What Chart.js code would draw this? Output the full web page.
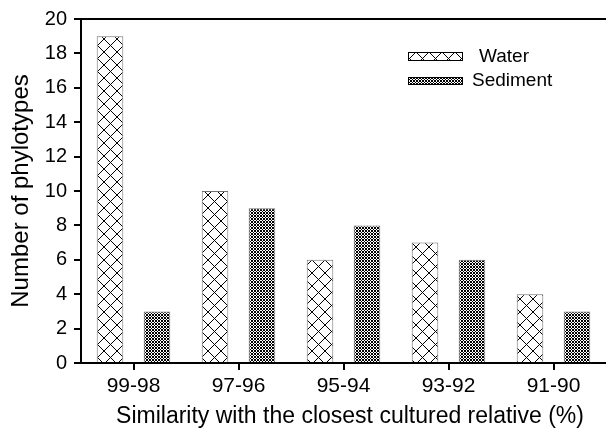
<!DOCTYPE html>
<html>
<head>
<meta charset="utf-8">
<script src="https://cdn.jsdelivr.net/npm/chart.js@4/dist/chart.umd.min.js"></script>
<style>
html,body{margin:0;padding:0;background:#fff;}
#wrap{width:606px;height:433px;position:relative;}
</style>
</head>
<body>
<div id="wrap"><canvas id="c" width="606" height="433"></canvas></div>
<script>
const categories = ['99-98', '97-96', '95-94', '93-92', '91-90'];
const waterValues = [19, 10, 6, 7, 4];
const sedimentValues = [3, 9, 8, 6, 3];
const seriesNames = ['Water', 'Sediment'];
const yTicks = [0, 2, 4, 6, 8, 10, 12, 14, 16, 18, 20];
const xTitle = 'Similarity with the closest cultured relative (%)';
const yTitle = 'Number of phylotypes';

const FONT = '"Liberation Sans", Arial, Helvetica, sans-serif';

function makeWaterPattern() {
  const s = 13;
  const c = document.createElement('canvas');
  c.width = s; c.height = s;
  const g = c.getContext('2d');
  g.fillStyle = '#fff'; g.fillRect(0, 0, s, s);
  g.strokeStyle = '#000'; g.lineWidth = 1;
  g.beginPath();
  g.moveTo(0, 0); g.lineTo(s, s);
  g.moveTo(s, 0); g.lineTo(0, s);
  g.stroke();
  return g.createPattern(c, 'repeat');
}
function makeSedimentPattern() {
  const s = 3;
  const c = document.createElement('canvas');
  c.width = s; c.height = s;
  const g = c.getContext('2d');
  g.fillStyle = '#fff'; g.fillRect(0, 0, s, s);
  g.fillStyle = '#000';
  const px = [[0,0],[1,1],[2,2],[2,0],[0,2]];
  px.forEach(p => g.fillRect(p[0], p[1], 1, 1));
  return g.createPattern(c, 'repeat');
}
const waterPattern = makeWaterPattern();
const sedimentPattern = makeSedimentPattern();

const extras = {
  id: 'extras',
  afterDraw(chart) {
    const ctx = chart.ctx;
    const a = chart.chartArea;
    ctx.save();
    // top frame line
    ctx.strokeStyle = '#000';
    ctx.lineWidth = 2;
    ctx.beginPath();
    ctx.moveTo(a.left - 1, a.top);
    ctx.lineTo(606, a.top);
    ctx.stroke();
    // x axis title
    ctx.fillStyle = '#000';
    ctx.font = '23px ' + FONT;
    ctx.textAlign = 'center';
    ctx.textBaseline = 'middle';
    ctx.fillText(xTitle, 350, 417);
    // legend
    const items = [
      {label: seriesNames[0], fill: waterPattern, box: [408, 52, 55, 9], tx: 479, ty: 57},
      {label: seriesNames[1], fill: sedimentPattern, box: [408, 77, 55, 8], tx: 472, ty: 81}
    ];
    items.forEach(it => {
      ctx.fillStyle = it.fill;
      ctx.fillRect(it.box[0], it.box[1], it.box[2], it.box[3]);
      ctx.strokeStyle = '#000';
      ctx.lineWidth = 1;
      ctx.strokeRect(it.box[0] + 0.5, it.box[1] + 0.5, it.box[2] - 1, it.box[3] - 1);
      ctx.fillStyle = '#000';
      ctx.font = '19px ' + FONT;
      ctx.textBaseline = 'middle';
      ctx.textAlign = 'left';
      ctx.fillText(it.label, it.tx, it.ty);
    });
    ctx.restore();
  }
};

new Chart(document.getElementById('c'), {
  type: 'bar',
  data: {
    labels: categories,
    datasets: [
      {label: seriesNames[0], data: waterValues, backgroundColor: waterPattern, borderColor: '#707070', borderWidth: 1},
      {label: seriesNames[1], data: sedimentValues, backgroundColor: sedimentPattern, borderColor: '#707070', borderWidth: 1}
    ]
  },
  options: {
    responsive: false,
    animation: false,
    events: [],
    layout: {padding: {top: 19, right: 0, left: 0, bottom: 0}},
    datasets: {bar: {categoryPercentage: 0.895, barPercentage: 0.566}},
    plugins: {legend: {display: false}, tooltip: {enabled: false}},
    scales: {
      x: {
        offset: true,
        grid: {display: true, drawOnChartArea: false, drawTicks: true, tickLength: 7, color: '#000', lineWidth: 2, offset: false},
        border: {display: true, color: '#000', width: 2},
        ticks: {color: '#000', font: {family: FONT, size: 21}, padding: 4, maxRotation: 0},
        title: {display: false},
        afterFit(scale) { scale.height = 70; }
      },
      y: {
        min: 0, max: 20,
        afterBuildTicks(scale) { scale.ticks = yTicks.map(v => ({value: v})); },
        grid: {display: true, drawOnChartArea: false, drawTicks: true, tickLength: 7, color: '#000', lineWidth: 2},
        border: {display: true, color: '#000', width: 2},
        ticks: {color: '#000', font: {family: FONT, size: 20}, padding: 7},
        title: {display: true, text: yTitle, color: '#000', font: {family: FONT, size: 24}, padding: {top: 7, bottom: 0}},
        afterFit(scale) { scale.width = 81; }
      }
    }
  },
  plugins: [extras]
});
</script>
</body>
</html>
